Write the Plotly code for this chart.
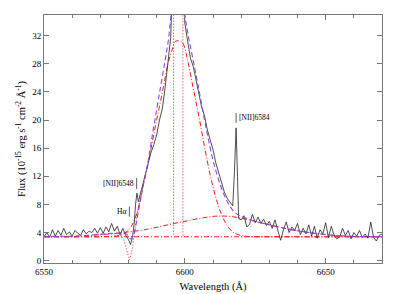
import plotly.graph_objects as go

# ---------------- data ----------------
wl_obs = [6550, 6551, 6552, 6553, 6554, 6555, 6556, 6557, 6558, 6559,
          6560, 6561, 6562, 6563, 6564, 6565, 6566, 6567, 6568, 6569,
          6570, 6571, 6572, 6573, 6574, 6575, 6576, 6577, 6578, 6579,
          6580, 6580.7, 6581.4, 6582, 6582.5, 6583, 6583.5, 6584, 6585, 6586,
          6587, 6588, 6589, 6590, 6591, 6592, 6593, 6594, 6595, 6596,
          6597, 6598, 6599, 6600, 6601, 6602, 6603, 6604, 6605, 6606,
          6607, 6608, 6609, 6610, 6611, 6612, 6613, 6614, 6615, 6616,
          6617, 6617.6, 6618.2, 6618.7, 6619.1,
          6620, 6621, 6622, 6623, 6624, 6625, 6626, 6627, 6628, 6629,
          6630, 6631, 6632, 6633, 6634, 6635, 6636, 6637, 6638, 6639,
          6640, 6641, 6642, 6643, 6644, 6645, 6646, 6647, 6648, 6649,
          6650, 6651, 6652, 6653, 6654, 6655, 6656, 6657, 6658, 6659,
          6660, 6661, 6662, 6663, 6664, 6665, 6666, 6667, 6668, 6669, 6670]
flux_obs = [3.4, 4.0, 3.3, 4.4, 3.5, 4.3, 3.6, 4.6, 3.7, 4.1,
            3.5, 4.3, 3.9, 3.6, 4.4, 3.8, 4.2, 4.0, 4.6, 3.9,
            4.7, 3.9, 4.8, 4.1, 5.3, 4.2, 4.9, 3.7, 4.6, 3.6,
            3.0, 2.3, 3.3, 5.2, 8.0, 9.6, 8.4, 9.2, 10.8, 12.4,
            14.2, 15.4, 16.5, 17.9, 20.0, 21.6, 24.6, 28.0, 31.8, 45.0,
            60.0, 60.0, 45.0, 33.8, 31.2, 28.8, 27.6, 25.6, 24.0, 21.8,
            20.6, 18.6, 17.2, 15.8, 13.9, 12.6, 11.2, 9.8, 8.9, 8.3,
            7.8, 12.5, 18.9, 12.0, 6.0,
            5.8, 6.4, 4.8, 5.2, 6.6, 5.4, 6.2, 5.3, 5.9, 5.0,
            5.6, 4.6, 5.8, 4.5, 2.9, 4.4, 5.5, 4.0, 4.8, 4.3,
            5.3, 3.7, 4.6, 3.8, 5.1, 3.5, 4.9, 3.2, 4.4, 3.8,
            5.4, 3.3, 4.9, 3.6, 3.1, 3.4, 4.6, 3.6, 4.3, 3.1,
            4.0, 3.5, 4.3, 3.3, 3.8, 3.2, 5.5, 3.3, 2.8, 3.6, 3.8]

# total model fit (dashed)
wl_total = [6550, 6560, 6565, 6570, 6574, 6576, 6578, 6579.5, 6580.8, 6581.8,
            6582.6, 6583.5, 6585, 6587, 6588.2, 6590, 6591.5, 6593, 6594.2, 6595.3,
            6597, 6598.5, 6599.8, 6601, 6603, 6605, 6607, 6608.2, 6609.5, 6611,
            6612.5, 6614, 6615.5, 6617, 6619, 6620.5, 6625, 6630, 6635, 6640,
            6645, 6650, 6655, 6660, 6670]
flux_total = [3.45, 3.5, 3.6, 3.75, 3.9, 3.9, 4.0, 3.7, 3.1, 3.6,
              5.0, 7.0, 10.2, 14.2, 17.2, 21.5, 25.0, 28.5, 31.5, 35.5,
              40.0, 40.0, 35.5, 32.5, 28.4, 24.3, 20.0, 17.6, 15.1, 12.8,
              10.9, 9.3, 8.1, 7.2, 6.5, 6.25, 5.6, 5.1, 4.65, 4.25,
              3.95, 3.7, 3.55, 3.45, 3.4]

# broad Halpha component (dash-dot)
wl_broad = [6550, 6570, 6574, 6577, 6579, 6581, 6583, 6585, 6587, 6588.8,
            6590.5, 6592.4, 6594, 6595.5, 6596.6, 6598.6, 6599.5, 6601, 6603, 6605,
            6607, 6609, 6611, 6613, 6615, 6617, 6619, 6622, 6630, 6670]
flux_broad = [3.4, 3.4, 3.45, 3.6, 4.0, 4.9, 6.8, 10.3, 14.0, 17.6,
              21.0, 24.7, 28.0, 30.0, 31.2, 31.2, 30.8, 28.5, 24.5, 20.5,
              16.2, 12.2, 9.0, 6.6, 5.0, 4.1, 3.7, 3.45, 3.4, 3.4]

# very broad low component (dash-dot)
wl_wide = [6550, 6560, 6565, 6570, 6575, 6580, 6585, 6590, 6595, 6600,
           6605, 6610, 6613, 6616, 6620, 6625, 6630, 6635, 6640, 6645,
           6650, 6655, 6660, 6670]
flux_wide = [3.4, 3.45, 3.55, 3.7, 3.85, 4.1, 4.35, 4.75, 5.2, 5.6,
             6.0, 6.3, 6.35, 6.3, 6.05, 5.6, 5.1, 4.65, 4.25, 3.95,
             3.7, 3.55, 3.45, 3.4]

# continuum level (dash-dot)
wl_cont = [6550, 6670]
flux_cont = [3.4, 3.4]

# absorption trough (dotted)
wl_abs = [6575, 6577, 6578.3, 6579.5, 6580.4, 6581.3, 6582.2, 6583, 6584]
flux_abs = [3.5, 3.7, 3.0, 1.3, 0.1, 1.6, 4.0, 6.6, 8.4]

# narrow components (dotted, off scale)
narrow_wl = [6596.0, 6599.3]
narrow_base = [3.7, 3.6]
narrow_peak = [80.0, 80.0]

# line identifications
line_labels = ["H\u03b1", "[NII]6548", "[NII]6584"]
label_wl = [6580.3, 6582.9, 6618.2]
label_lo = [6.26, 10.2, 19.6]
label_hi = [7.7, 11.76, 21.0]
label_side = ["left", "left", "right"]

x_ticks = [6550, 6600, 6650]
y_ticks = [0, 4, 8, 12, 16, 20, 24, 28, 32]

# ---------------- figure ----------------
RED = "#ff1a1a"
PURPLE = "#8448e8"
FONT = "Liberation Serif"

fig = go.Figure()

fig.add_trace(go.Scatter(x=wl_cont, y=flux_cont, mode="lines",
                         line=dict(color=RED, width=1, dash="5px,2px,1px,2px")))
fig.add_trace(go.Scatter(x=wl_wide, y=flux_wide, mode="lines", line_shape="spline",
                         line=dict(color=RED, width=1, dash="5px,2px,1px,2px")))
fig.add_trace(go.Scatter(x=wl_abs, y=flux_abs, mode="lines",
                         line=dict(color=RED, width=1, dash="1px,2px")))
for w, b, p in zip(narrow_wl, narrow_base, narrow_peak):
    fig.add_trace(go.Scatter(x=[w, w], y=[b, p], mode="lines",
                             line=dict(color=RED, width=1, dash="1px,2px")))
fig.add_trace(go.Scatter(x=wl_broad, y=flux_broad, mode="lines", line_shape="spline",
                         line=dict(color=RED, width=1, dash="5px,2px,1px,2px")))
fig.add_trace(go.Scatter(x=wl_obs, y=flux_obs, mode="lines",
                         line=dict(color="#222222", width=0.8)))
fig.add_trace(go.Scatter(x=wl_total, y=flux_total, mode="lines", line_shape="spline",
                         line=dict(color=PURPLE, width=1.1, dash="5px,3px")))

for lab, w, lo, hi, side in zip(line_labels, label_wl, label_lo, label_hi, label_side):
    fig.add_shape(type="line", xref="x", yref="y", x0=w, x1=w, y0=lo, y1=hi,
                  line=dict(color="#333333", width=0.8))
    fig.add_annotation(x=w, y=(lo + hi) / 2, xref="x", yref="y", text=lab,
                       showarrow=False,
                       xanchor="right" if side == "left" else "left",
                       xshift=-1 if side == "left" else 1,
                       font=dict(family=FONT, size=7.5, color="black"))

axis_common = dict(showline=True, linecolor="#777777", linewidth=1,
                   mirror="ticks", ticks="inside", tickcolor="#777777",
                   showgrid=False, zeroline=False,
                   tickfont=dict(family=FONT, size=9, color="black"))

fig.update_xaxes(range=[6550, 6670], tickvals=x_ticks, ticklen=5,
                 minor=dict(dtick=10, tick0=6550, ticks="inside", ticklen=3,
                            tickcolor="#777777", showgrid=False),
                 title=dict(text="Wavelength (\u00c5)", standoff=6,
                            font=dict(family=FONT, size=10.5, color="black")),
                 **axis_common)
fig.update_yaxes(range=[-0.33, 34.95], tickvals=y_ticks, ticklen=5,
                 title=dict(text="Flux (10<sup>-15</sup> erg s<sup>-1</sup> cm<sup>-2</sup> \u00c5<sup>-1</sup>)",
                            standoff=4, font=dict(family=FONT, size=10.5, color="black")),
                 **axis_common)

fig.update_layout(width=415, height=294, showlegend=False,
                  margin=dict(l=44, r=33, t=15, b=31, autoexpand=False),
                  plot_bgcolor="white", paper_bgcolor="white")

fig.write_html("out.html", config={"displayModeBar": False},
               post_script="document.body.style.margin='0';document.body.style.padding='0';")
